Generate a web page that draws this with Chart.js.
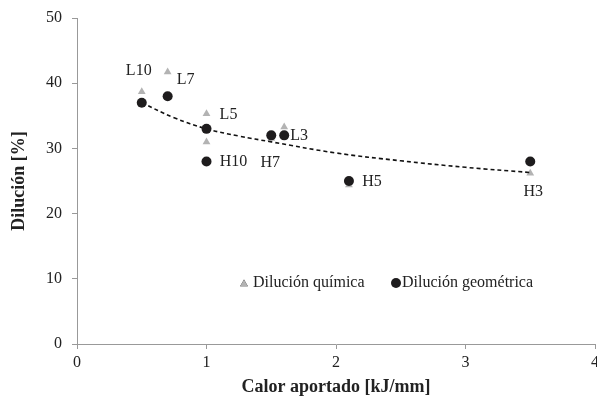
<!DOCTYPE html>
<html>
<head>
<meta charset="utf-8">
<script src="https://cdn.jsdelivr.net/npm/chart.js@4.4.0/dist/chart.umd.min.js"></script>
<style>
  html, body { margin: 0; padding: 0; background: #fff; }
  #wrap { width: 597px; height: 401px; }
</style>
</head>
<body>
<div id="wrap"><canvas id="grafico"></canvas></div>
<script>
// Datos
const calor = [0.5, 0.7, 1.0, 1.0, 1.5, 1.6, 2.1, 3.5];
const etiquetas = ['L10', 'L7', 'L5', 'H10', 'H7', 'L3', 'H5', 'H3'];
const dilQuimica = [38.7, 41.7, 35.3, 31.0, 31.5, 33.3, 24.4, 26.2];
const dilGeometrica = [37, 38, 33, 28, 32, 32, 25, 28];

// Línea de tendencia
const tendX = [0.5, 0.75, 1.0, 1.25, 1.5, 2.0, 2.5, 3.0, 3.5];
const tendY = [37.0, 34.7, 33.0, 31.9, 31.0, 29.3, 28.1, 27.1, 26.3];

const ticksY = [0, 10, 20, 30, 40, 50];
const ticksX = [0, 1, 2, 3, 4];

// desplazamiento de cada etiqueta respecto al punto geométrico (px)
const desplaz = [[-3, -32], [18, -16], [22, -14], [27, 0], [-1, 27], [15, 0], [23, 1], [3, 30]];

const fuente = "'Liberation Serif', 'Times New Roman', serif";
const gris = '#b3b3b3';
const negro = '#1e1c1d';

const puntos = (xs, ys) => xs.map((x, i) => ({ x: x, y: ys[i] }));

// etiquetas de cada muestra
const pluginEtiquetas = {
    id: 'etiquetas',
    afterDatasetsDraw(chart) {
        const ctx = chart.ctx;
        const sx = chart.scales.x, sy = chart.scales.y;
        ctx.save();
        ctx.font = '16px ' + fuente;
        ctx.fillStyle = '#222';
        ctx.textAlign = 'center';
        ctx.textBaseline = 'middle';
        etiquetas.forEach((t, i) => {
            const px = sx.getPixelForValue(calor[i]) + desplaz[i][0];
            const py = sy.getPixelForValue(dilGeometrica[i]) + desplaz[i][1];
            ctx.fillText(t, px, py);
        });
        ctx.restore();
    }
};

// leyenda dentro del área del gráfico
const pluginLeyenda = {
    id: 'leyendaInterna',
    afterDraw(chart) {
        const ctx = chart.ctx;
        const y = 283;
        ctx.save();
        Chart.helpers.drawPoint(ctx, { pointStyle: 'triangle', radius: 4.5, rotation: 0 }, 244, y + 1);
        ctx.fillStyle = gris;
        ctx.fill();
        ctx.beginPath();
        ctx.arc(396, y, 5, 0, Math.PI * 2);
        ctx.fillStyle = negro;
        ctx.fill();
        ctx.font = '16px ' + fuente;
        ctx.fillStyle = '#222';
        ctx.textAlign = 'left';
        ctx.textBaseline = 'middle';
        ctx.fillText('Dilución química', 253, y);
        ctx.fillText('Dilución geométrica', 402, y);
        ctx.restore();
    }
};

const ctx = document.getElementById('grafico').getContext('2d');
new Chart(ctx, {
    type: 'scatter',
    data: {
        datasets: [
            {
                label: 'Dilución química',
                data: puntos(calor, dilQuimica),
                pointStyle: 'triangle',
                pointRadius: 4.5,
                backgroundColor: gris,
                borderColor: gris,
                borderWidth: 0,
                order: 3
            },
            {
                label: 'Tendencia',
                data: puntos(tendX, tendY),
                showLine: true,
                tension: 0.4,
                pointRadius: 0,
                borderColor: '#111',
                borderWidth: 1.6,
                borderDash: [4, 3],
                order: 2
            },
            {
                label: 'Dilución geométrica',
                data: puntos(calor, dilGeometrica),
                pointStyle: 'circle',
                pointRadius: 5,
                backgroundColor: negro,
                borderColor: negro,
                borderWidth: 0,
                order: 1
            }
        ]
    },
    options: {
        responsive: true,
        maintainAspectRatio: false,
        animation: false,
        layout: { autoPadding: false, padding: { top: 18, right: 2, left: 0, bottom: 0 } },
        plugins: {
            legend: { display: false },
            tooltip: { enabled: false }
        },
        scales: {
            x: {
                type: 'linear',
                min: 0,
                max: 4,
                afterBuildTicks: s => { s.ticks = ticksX.map(v => ({ value: v })); },
                afterFit: s => { s.height = 57; s.paddingLeft = 0; s.paddingRight = 0; },
                grid: { drawOnChartArea: false, drawTicks: true, tickLength: 5, color: '#999' },
                border: { display: true, color: '#999', width: 1 },
                ticks: { padding: 4, color: '#222', font: { family: fuente, size: 16 } },
                title: {
                    display: true,
                    text: 'Calor aportado [kJ/mm]',
                    color: '#222',
                    padding: { top: 0, bottom: 3 },
                    font: { family: fuente, size: 18, weight: 'bold' }
                }
            },
            y: {
                min: 0,
                max: 50,
                afterBuildTicks: s => { s.ticks = ticksY.map(v => ({ value: v })); },
                afterFit: s => { s.width = 77; s.paddingTop = 0; s.paddingBottom = 0; },
                grid: { drawOnChartArea: false, drawTicks: true, tickLength: 5, color: '#999' },
                border: { display: true, color: '#999', width: 1 },
                ticks: { padding: 10, color: '#222', font: { family: fuente, size: 16 } },
                title: {
                    display: true,
                    text: 'Dilución [%]',
                    color: '#222',
                    padding: { top: 9, bottom: 0 },
                    font: { family: fuente, size: 18, weight: 'bold' }
                }
            }
        }
    },
    plugins: [pluginEtiquetas, pluginLeyenda]
});
</script>
</body>
</html>
